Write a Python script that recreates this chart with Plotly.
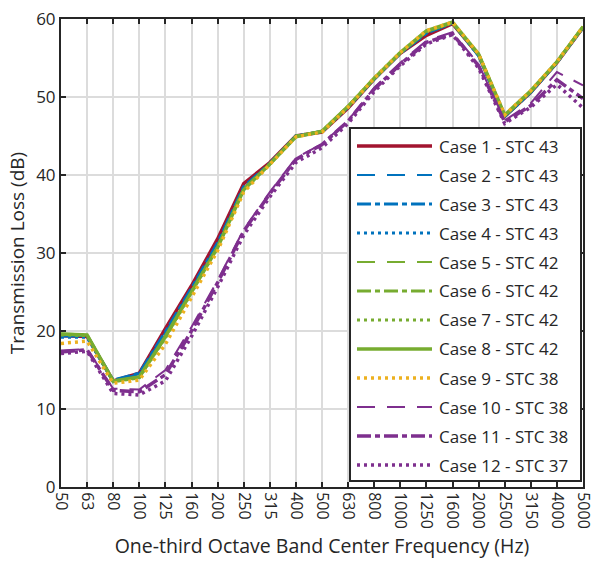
import plotly.graph_objects as go

# ---------------- data ----------------
freq_labels = ["50", "63", "80", "100", "125", "160", "200", "250", "315", "400", "500",
               "630", "800", "1000", "1250", "1600", "2000", "2500", "3150", "4000", "5000"]

case1 = [19.4, 19.3, 13.6, 14.6, 20.3, 25.8, 31.8, 38.9, 41.6, 45.0, 45.5, 48.6, 52.3, 55.6, 57.9, 59.4, 55.4, 47.5, 50.6, 54.4, 58.9]
case2 = [19.3, 19.3, 13.6, 14.5, 19.8, 25.4, 31.2, 38.4, 41.5, 45.0, 45.5, 48.7, 52.3, 55.6, 58.2, 59.5, 55.3, 47.5, 50.6, 54.4, 58.9]
case3 = [19.5, 19.4, 13.7, 14.6, 19.9, 25.5, 31.3, 38.5, 41.5, 45.0, 45.6, 48.7, 52.3, 55.6, 58.2, 59.5, 55.3, 47.5, 50.6, 54.4, 58.9]
case4 = [19.2, 19.2, 13.5, 14.4, 19.6, 25.2, 31.0, 38.3, 41.4, 45.0, 45.5, 48.7, 52.3, 55.6, 58.2, 59.5, 55.3, 47.5, 50.6, 54.4, 58.9]
case5 = [19.6, 19.4, 13.5, 14.0, 19.2, 25.0, 30.8, 38.2, 41.4, 45.0, 45.6, 48.8, 52.4, 55.7, 58.4, 59.5, 55.5, 47.6, 50.7, 54.5, 59.0]
case6 = [19.6, 19.5, 13.5, 14.1, 19.2, 25.0, 30.8, 38.2, 41.4, 45.0, 45.6, 48.8, 52.4, 55.7, 58.4, 59.5, 55.5, 47.6, 50.7, 54.5, 59.0]
case7 = [19.5, 19.4, 13.5, 14.0, 19.1, 24.9, 30.7, 38.1, 41.4, 44.9, 45.6, 48.8, 52.4, 55.7, 58.4, 59.5, 55.5, 47.6, 50.7, 54.5, 59.0]
case8 = [19.6, 19.5, 13.6, 14.1, 19.3, 25.0, 30.7, 38.1, 41.4, 44.9, 45.6, 48.8, 52.4, 55.7, 58.5, 59.6, 55.5, 47.7, 50.8, 54.5, 59.0]
case9 = [18.4, 18.7, 13.3, 13.7, 18.3, 24.3, 30.3, 37.8, 41.3, 44.9, 45.5, 48.7, 52.4, 55.7, 58.5, 59.6, 55.5, 47.7, 50.8, 54.5, 59.0]
case10 = [17.5, 17.7, 12.6, 12.5, 15.0, 20.5, 26.5, 33.0, 37.8, 42.2, 44.0, 47.0, 51.2, 54.4, 57.2, 58.3, 54.2, 47.0, 49.2, 53.2, 51.5]
case11 = [17.3, 17.6, 12.4, 12.2, 14.4, 20.0, 26.2, 32.8, 37.6, 42.0, 43.9, 46.9, 51.0, 54.2, 57.0, 58.1, 54.0, 46.8, 48.9, 52.2, 49.8]
case12 = [17.1, 17.4, 12.0, 11.8, 13.6, 19.3, 25.6, 32.3, 37.2, 41.6, 43.5, 46.6, 50.7, 54.0, 56.8, 58.0, 53.7, 46.6, 48.7, 51.6, 48.6]

case_names = ["Case 1 - STC 43", "Case 2 - STC 43", "Case 3 - STC 43", "Case 4 - STC 43",
              "Case 5 - STC 42", "Case 6 - STC 42", "Case 7 - STC 42", "Case 8 - STC 42",
              "Case 9 - STC 38", "Case 10 - STC 38", "Case 11 - STC 38", "Case 12 - STC 37"]
case_values = [case1, case2, case3, case4, case5, case6, case7, case8, case9, case10, case11, case12]

# ---------------- styles ----------------
RED, BLUE, GREEN, YELLOW, PURPLE = "#A2142F", "#0072BD", "#77AC30", "#EDB120", "#7E2F8E"
DASH = "18px,12px"
DASHDOT = "14px,4px,5px,4px"
DOT = "3px,4px"
styles = [
    (RED, "solid", 3.5), (BLUE, DASH, 2), (BLUE, DASHDOT, 3), (BLUE, DOT, 3),
    (GREEN, DASH, 2), (GREEN, DASHDOT, 3), (GREEN, DOT, 3), (GREEN, "solid", 3.5),
    (YELLOW, DOT, 3.5), (PURPLE, DASH, 2), (PURPLE, DASHDOT, 3.5), (PURPLE, DOT, 3.5),
]

FONT = "Open Sans"
TXT = "#262626"

fig = go.Figure()
for name, vals, (col, dash, w) in zip(case_names, case_values, styles):
    fig.add_trace(go.Scatter(x=freq_labels, y=vals, mode="lines", name=name,
                             line=dict(color=col, dash=dash, width=w), showlegend=False))

# plot area in pixels
W, H = 594, 562
L, R, T, B = 61, 11, 19, 75
PW, PH = W - L - R, H - T - B

def fx(px):
    return (px - L) / PW

def fy(py):
    return (H - B - py) / PH

# manual legend (box, samples, labels)
shapes = [dict(type="rect", xref="paper", yref="paper", x0=fx(350), x1=fx(581), y0=fy(481), y1=fy(128),
               fillcolor="white", line=dict(color=TXT, width=2), layer="above")]
annotations = []
for i, (name, (col, dash, w)) in enumerate(zip(case_names, styles)):
    yc = 146 + 29 * i
    shapes.append(dict(type="line", xref="paper", yref="paper", x0=fx(357), x1=fx(432), y0=fy(yc), y1=fy(yc),
                       line=dict(color=col, dash=dash, width=w), layer="above"))
    annotations.append(dict(xref="paper", yref="paper", x=fx(437), y=fy(yc), text=name, showarrow=False,
                            xanchor="left", yanchor="middle", font=dict(family=FONT, size=17, color=TXT)))

fig.update_layout(
    width=W, height=H,
    margin=dict(l=L, r=R, t=T, b=B, autoexpand=False),
    paper_bgcolor="white", plot_bgcolor="white",
    font=dict(family=FONT, size=16, color=TXT),
    shapes=shapes, annotations=annotations,
    showlegend=False,
)
fig.update_xaxes(
    type="category", categoryorder="array", categoryarray=freq_labels,
    range=[0, len(freq_labels) - 1], automargin=False,
    tickangle=90, tickfont=dict(size=16, color=TXT),
    showgrid=True, gridcolor="#dcdcdc", gridwidth=2,
    showline=True, linecolor=TXT, linewidth=2, mirror="ticks",
    ticks="inside", ticklen=5, tickwidth=1.5, tickcolor=TXT,
    title=dict(text="One-third Octave Band Center Frequency (Hz)", font=dict(size=19.5, color=TXT), standoff=12),
)
fig.update_yaxes(
    range=[0, 60], dtick=10, tickfont=dict(size=17, color=TXT), automargin=False,
    showgrid=True, gridcolor="#dcdcdc", gridwidth=2, zeroline=False,
    showline=True, linecolor=TXT, linewidth=2, mirror="ticks",
    ticks="inside", ticklen=5, tickwidth=1.5, tickcolor=TXT,
    title=dict(text="Transmission Loss (dB)", font=dict(size=19, color=TXT), standoff=6),
)

fig.write_html("out.html")
